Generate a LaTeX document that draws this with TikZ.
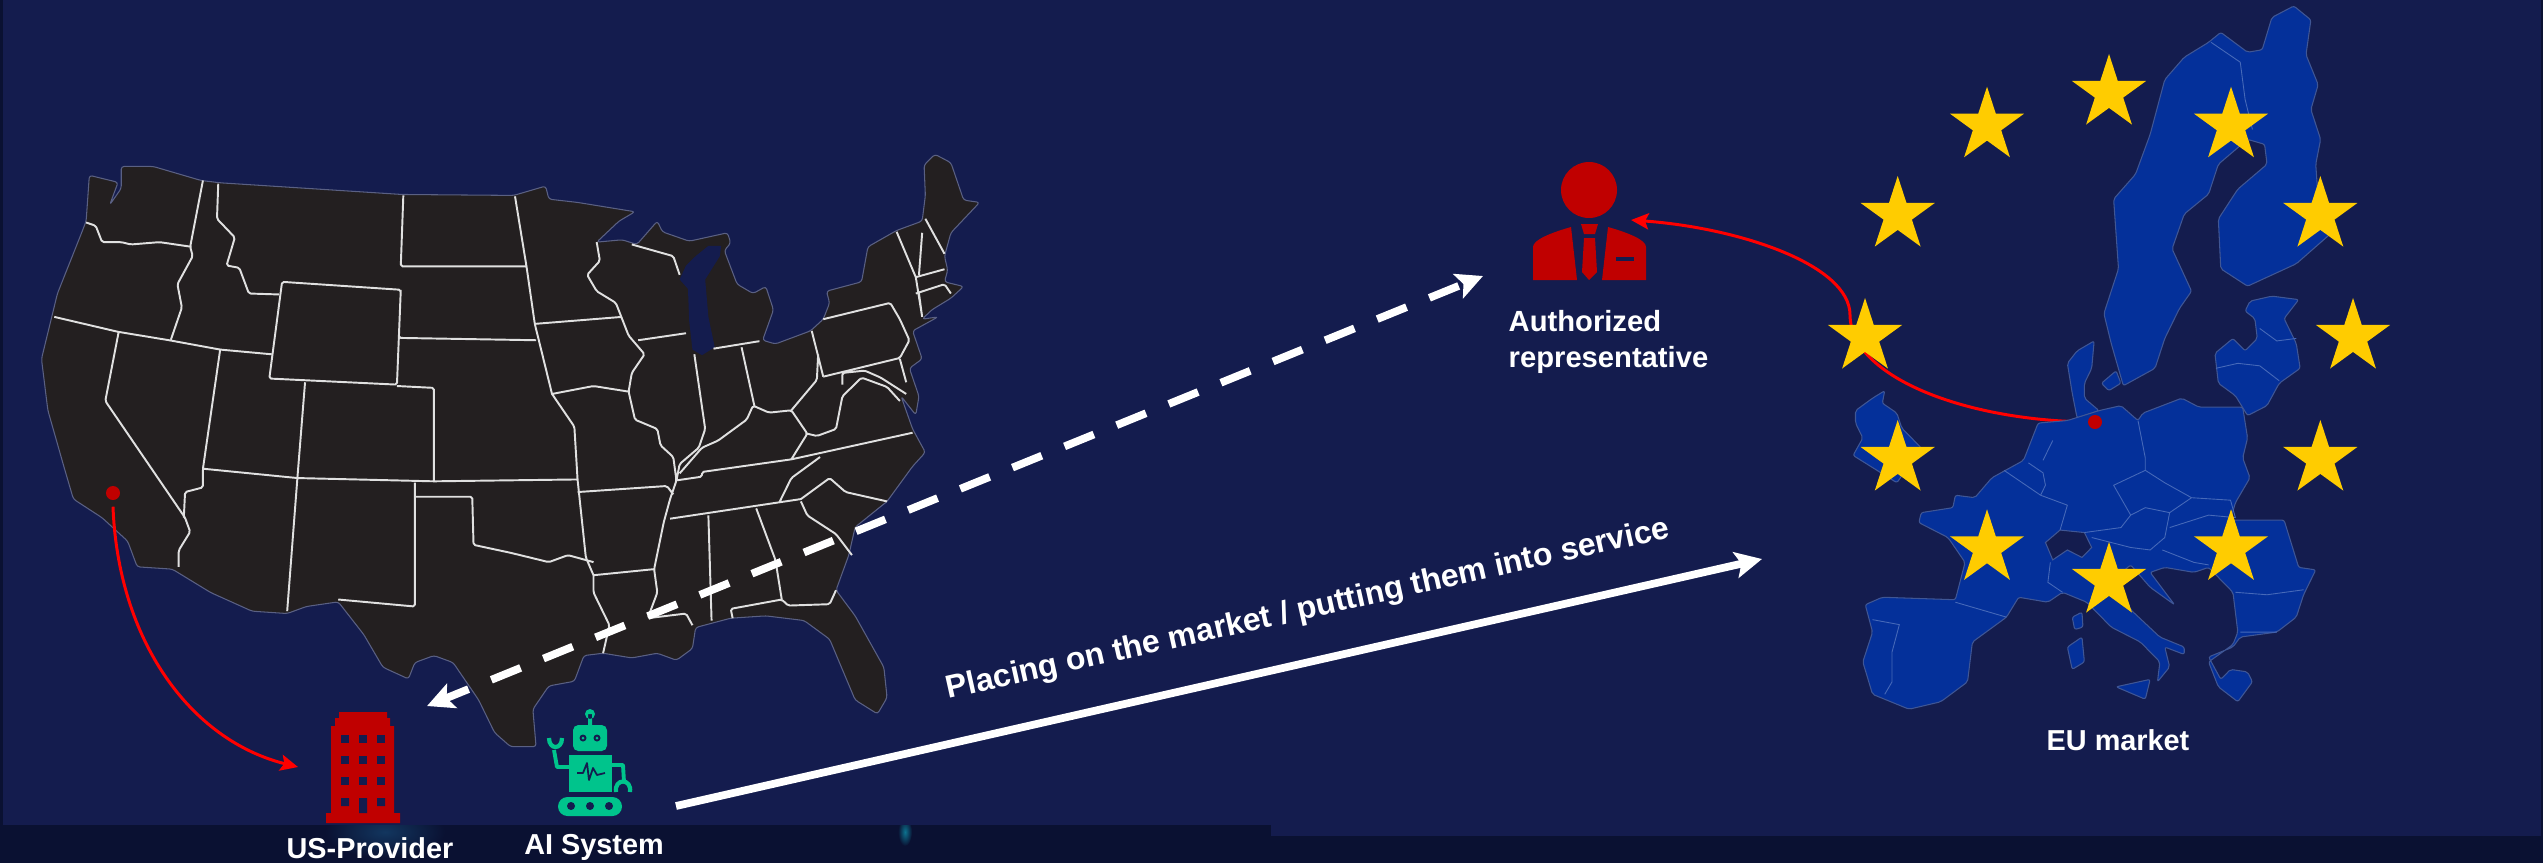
\documentclass[tikz,border=0pt]{standalone}
\usepackage{fontspec}
\setmainfont{Liberation Sans}
\usetikzlibrary{arrows.meta,shapes.geometric,calc}
\definecolor{navy}{HTML}{141C4E}
\definecolor{strip}{HTML}{0A1132}
\definecolor{stripglow}{HTML}{12365F}
\definecolor{usland}{HTML}{231F20}
\definecolor{euland}{HTML}{04309A}
\definecolor{euline}{HTML}{5C7CC4}
\definecolor{staryellow}{HTML}{FFCC00}
\definecolor{iconred}{HTML}{C00000}
\definecolor{arrowred}{HTML}{FF0000}
\definecolor{robotgreen}{HTML}{00C48C}
\tikzset{
  usfill/.style={fill=usland,draw=navy!70!white,line width=.3pt,line join=round,rounded corners=.8pt},
  stateline/.style={draw=white!88!black,line width=.55pt,line join=round,rounded corners=.5pt},
  eufill/.style={fill=euland,draw=euline!60!navy,line width=.3pt,line join=round,rounded corners=.6pt},
  euborder/.style={draw=euline!75!euland,line width=.25pt,line join=round},
  eustar/.style={star,star points=5,star point ratio=2.618,fill=staryellow,minimum size=.78cm,inner sep=0pt,draw=none},
  reddot/.style={circle,fill=iconred,minimum size=.14cm,inner sep=0pt},
  redarrow/.style={arrowred,line width=.85pt,-{Stealth[length=5pt,width=4.6pt,inset=1pt]}},
  whitearrow/.style={white,line width=2.2pt},
  tiplarge/.style={-{Stealth[length=7.6pt,width=7.4pt,inset=1.6pt]}},
  marklabel/.style={text=white,font=\fontsize{8.2}{10}\selectfont\bfseries,inner sep=0pt}
}
\begin{document}
\begin{tikzpicture}[x=.01cm,y=-.01cm]
\useasboundingbox (0,0) rectangle (2543,863);
\fill[navy] (0,0) rectangle (2543,863);
\fill[strip] (0,825) rectangle (1271,863);\fill[strip] (1271,836) rectangle (2543,863);\fill[strip] (0,0) rectangle (3,825);\fill[strip] (2541,0) rectangle (2543,836);
\begin{scope}
\clip (0,825) rectangle (1271,863);
\shade[inner color=stripglow,outer color=strip,draw=none] (385,832) ellipse (60 and 26);
\shade[inner color=stripglow!70!cyan,outer color=strip,draw=none] (905,832) ellipse (7 and 14);
\end{scope}
% US map
\begin{scope}[shift={(0,130)},x=.00638cm,y=-.004675cm]
\filldraw[usfill] (140,97)--(185,112)--(172,160)--(190,125)--(190,78)--(240,78)--(315,108)--(345,113)--(630,138)--(805,140)--(855,120)--(860,148)--(905,155)--(950,165)--(995,175)--(970,195)--(935,240)--(975,235)--(998,245)--(1030,195)--(1038,218)--(1080,238)--(1140,220)--(1145,242)--(1135,258)--(1155,330)--(1180,350)--(1200,335)--(1212,385)--(1195,450)--(1215,458)--(1270,430)--(1290,405)--(1300,370)--(1295,345)--(1350,325)--(1360,250)--(1405,215)--(1445,195)--(1450,140)--(1448,75)--(1465,52)--(1490,70)--(1510,150)--(1535,155)--(1490,220)--(1480,270)--(1485,300)--(1480,325)--(1510,335)--(1490,360)--(1460,385)--(1445,405)--(1470,400)--(1430,430)--(1445,490)--(1425,510)--(1440,570)--(1435,610)--(1412,570)--(1430,640)--(1450,690)--(1430,720)--(1390,795)--(1340,850)--(1330,910)--(1310,985)--(1340,1040)--(1385,1150)--(1390,1215)--(1375,1250)--(1340,1220)--(1300,1090)--(1260,1050)--(1200,1040)--(1145,1045)--(1090,1065)--(1085,1110)--(1060,1135)--(1030,1120)--(990,1130)--(945,1120)--(915,1125)--(900,1180)--(860,1190)--(835,1240)--(840,1320)--(800,1320)--(775,1290)--(750,1220)--(710,1140)--(680,1125)--(650,1140)--(640,1175)--(600,1150)--(570,1080)--(530,1010)--(480,1020)--(450,1035)--(395,1030)--(330,990)--(270,940)--(215,935)--(200,880)--(160,830)--(115,790)--(100,720)--(75,600)--(65,490)--(90,350)--(125,230)--(135,195)--cycle;
\fill[navy] (1090,270)--(1110,248)--(1130,248)--(1128,270)--(1105,320)--(1110,400)--(1120,465)--(1100,482)--(1085,470)--(1080,410)--(1078,340)--(1065,320)--(1075,290)--cycle;
\path[stateline]
 (135,198)--(150,205)--(160,240)--(190,240)--(205,245)--(250,240)--(300,250)
 (318,108)--(298,250)--(302,270)--(278,330)--(285,380)--(268,448)
 (342,115)--(340,190)--(368,230)--(355,290)--(375,295)--(390,350)--(437,352)
 (85,400)--(185,432)--(265,450)--(345,470)--(425,480)
 (442,325)--(628,342)--(622,545)--(422,532)--cycle
 (632,140)--(628,292)--(825,292) (628,342)--(625,445)--(840,450)
 (807,142)--(825,292)--(838,415)--(865,565)
 (478,540)--(466,745) (622,548)--(680,552)--(680,752)
 (186,432)--(165,580)--(290,830)--(298,860)--(280,900)--(280,935)
 (345,470)--(318,725)--(318,765)--(290,775)--(288,830)
 (318,725)--(466,745)--(680,752)--(905,748)
 (466,745)--(450,1030)
 (650,755)--(650,1020)--(530,1005)
 (650,785)--(740,785)--(742,888)--(800,905)--(860,925)--(890,910)--(930,925)
 (865,565)--(900,635)--(905,748)--(918,915)--(930,953)
 (838,415)--(975,400) (865,565)--(930,548)--(985,560)
 (935,240)--(940,280)--(920,310)--(935,345)--(965,370)--(985,440)--(1010,480)--(990,520)--(985,560)--(995,620)--(1030,640)--(1035,675)--(1055,700)--(1060,750)--(1050,790)--(1040,840)--(1025,940)--(1030,990)--(1015,1045)--(1075,1035)--(1085,1060)
 (905,775)--(1045,762)--(1055,780)
 (930,953)--(1025,940) (930,953)--(930,990)--(955,1060)--(945,1120)
 (1050,832)--(1255,790)
 (1060,750)--(1100,742)--(1100,732)--(1240,705)--(1430,648)
 (1088,480)--(1105,640)--(1095,680)--(1065,715)--(1060,750)
 (1000,450)--(1075,435)
 (990,245)--(1055,270)--(1065,310)
 (1118,468)--(1190,452)
 (1162,465)--(1182,590)
 (1272,430)--(1290,528)
 (1065,735)--(1100,680)--(1125,665)--(1140,650)--(1170,620)--(1180,590)--(1205,605)--(1240,600)--(1265,650)--(1240,705)
 (1240,600)--(1280,535)--(1282,480)
 (1265,650)--(1280,655)--(1310,640)--(1320,570)--(1350,530)--(1390,550)--(1410,580)
 (1290,528)--(1410,488)--(1425,450)--(1410,405)--(1395,370)--(1290,405)
 (1320,545)--(1320,520)--(1355,515)--(1380,530)--(1420,565) (1410,490)--(1420,540)
 (1405,218)--(1435,315) (1450,190)--(1480,265) (1445,220)--(1440,310)
 (1435,315)--(1480,298) (1435,350)--(1480,330)--(1490,350) (1440,350)--(1445,400) (1435,315)--(1445,400)
 (1285,700)--(1240,745)--(1222,795) (1255,790)--(1300,745)--(1325,775)--(1390,795)
 (1255,795)--(1265,825)--(1310,865)--(1335,910)
 (1110,825)--(1115,1050)
 (1185,810)--(1215,920)--(1225,1005)
 (1148,1045)--(1145,1025)--(1225,1005)--(1235,1018)--(1300,1015)--(1310,985);
\end{scope}
\node[reddot] (caldot) at (113,493) {};
% red curve to the representative runs behind the EU land
\node[reddot] (hamdot) at (2095,422) {};
\coordinate (reptip) at (1631,220);
\draw[redarrow] (hamdot.west) .. controls (1960,420) and (1850,375) .. (1850,315) .. controls (1850,265) and (1740,228) .. (reptip);
% EU map
\begin{scope}[shift={(1780,0)},x=.004866cm,y=-.004974cm]
\filldraw[eufill] (705,775)--(680,690)--(665,630)--(695,540)--(685,400)--(730,350)--(760,270)--(790,160)--(830,115)--(880,85)--(905,65)--(960,105)--(990,100)--(1010,35)--(1055,12)--(1090,40)--(1080,110)--(1105,170)--(1090,220)--(1110,280)--(1100,330)--(1105,400)--(1130,470)--(1060,530)--(960,575)--(905,540)--(900,440)--(940,380)--(1000,330)--(995,290)--(960,280)--(900,330)--(880,390)--(830,430)--(805,500)--(845,585)--(820,620)--(790,680)--(770,740)--cycle;
\filldraw[eufill] (955,625)--(965,605)--(1010,595)--(1065,602)--(1035,640)--(1060,690)--(1068,740)--(1025,770)--(1000,815)--(960,835)--(935,795)--(900,770)--(893,710)--(930,680)--(955,705)--(980,680)--(975,640)--cycle;
\filldraw[eufill] (590,730)--(610,705)--(645,685)--(640,740)--(625,770)--(625,800)--(655,825)--(610,840)--(600,790)--cycle;
\filldraw[eufill] (660,770)--(690,745)--(700,770)--(675,785)--cycle;
\filldraw[eufill] (155,825)--(190,800)--(215,785)--(210,810)--(240,830)--(250,860)--(290,900)--(240,970)--(150,915)--(170,880)--(155,850)--cycle;
\filldraw[eufill] (530,850)--(590,845)--(655,825)--(700,815)--(735,845)--(745,830)--(825,800)--(860,818)--(950,818)--(960,880)--(950,920)--(965,960)--(935,1010)--(925,1045)--(1035,1045)--(1065,1140)--(1100,1145)--(1075,1195)--(1060,1240)--(1020,1270)--(945,1280)--(930,1300)--(880,1320)--(905,1365)--(925,1345)--(960,1350)--(970,1370)--(940,1410)--(900,1380)--(880,1330)--(930,1295)--(940,1270)--(930,1190)--(880,1140)--(850,1150)--(790,1140)--(760,1150)--(810,1215)--(760,1180)--(720,1135)--(690,1160)--(720,1225)--(780,1280)--(830,1300)--(830,1315)--(790,1300)--(800,1340)--(775,1370)--(780,1330)--(740,1290)--(680,1260)--(630,1210)--(580,1190)--(550,1210)--(490,1200)--(465,1240)--(395,1290)--(385,1370)--(330,1410)--(265,1425)--(190,1395)--(170,1330)--(190,1270)--(175,1215)--(210,1200)--(360,1205)--(380,1130)--(345,1080)--(285,1050)--(290,1030)--(355,1020)--(360,995)--(400,1000)--(435,960)--(500,925)--cycle;
\filldraw[fill=navy,draw=euline!60!navy,line width=.3pt] (545,1090)--(575,1065)--(625,1070)--(640,1100)--(620,1120)--(590,1105)--(560,1125)--cycle;
\filldraw[eufill] (590,1300)--(620,1280)--(625,1330)--(600,1345)--cycle (600,1240)--(620,1230)--(622,1260)--(605,1265)--cycle (690,1380)--(760,1365)--(750,1405)--cycle;
\path[euborder]
 (885,85)--(945,125)--(955,200)--(970,260)
 (985,660)--(1020,685)--(1060,680) (895,740)--(940,730)--(985,735)--(1025,765)
 (460,945)--(535,995)--(590,1015)--(575,1065) (510,930)--(540,950)--(545,975)--(535,995) (540,925)--(560,885)
 (735,845)--(750,920)--(750,945)
 (685,975)--(750,945)--(790,970)--(845,1000)--(800,1030)--(750,1020)--(720,1035)--cycle
 (625,1070)--(700,1060)--(720,1035) (800,1030)--(790,1080)--(760,1105)--(720,1100)--(640,1080)
 (845,1000)--(925,1005)--(935,1040) (800,1060)--(880,1035)--(935,1040)
 (785,1105)--(850,1130)--(880,1135)
 (935,1190)--(1000,1195)--(1075,1185) (945,1270)--(1020,1270)
 (190,1245)--(245,1255)--(230,1310)--(230,1370)--(215,1395)
 (360,1210)--(430,1230)--(465,1240) (555,1130)--(550,1170)--(580,1190);
\end{scope}
\foreach \a in {0,30,...,330} \node[eustar] (star\a) at ($(2109,337)+(\a:244)$) {};
\node[reddot] at (hamdot) {};
% icons
\fill[iconred] (326,813) rectangle (400,823) (331,726) rectangle (394,813) (335,718) rectangle (390,726) (339,712) rectangle (387,718);
\foreach \wx in {341,359,377} \foreach \wy in {735,756,777} \fill[navy] (\wx,\wy) rectangle +(8,8);
\fill[navy] (341,798) rectangle +(8,8) (377,798) rectangle +(8,8) (359,798) rectangle (367,813);
\fill[iconred] (1589,190) circle (28);
\fill[iconred] (1533,280)--(1533,247) .. controls (1533,240) and (1550,233) .. (1571,227)--(1577,280)--cycle;
\fill[iconred] (1646,280)--(1646,247) .. controls (1646,240) and (1629,233) .. (1608,227)--(1602,280)--cycle;
\fill[iconred] (1581,224)--(1598,224)--(1595,234)--(1584,234)--cycle (1584,238)--(1595,238)--(1597,272)--(1589,280)--(1582,272)--cycle;
\fill[navy] (1616,257) rectangle (1634,261);
\begin{scope}[robotgreen]
\fill (590,714) circle (5) (588,714) rectangle (592,726);
\fill[rounded corners=1.5pt] (573,725) rectangle (607,751);
\fill (569,755) rectangle (612,792);
\fill[rounded corners=2.7pt] (558,797) rectangle (622,816);
\draw[line width=1.1pt,line join=round] (570,767)--(557,767)--(554,750);
\draw[line width=1.2pt] (549,738) .. controls (549,750) and (562,750) .. (562,738);
\draw[line width=1.1pt,line join=round] (612,765)--(623,765)--(624,782);
\draw[line width=1.2pt] (616,792) .. controls (614,778) and (632,778) .. (630,792);
\end{scope}
\fill[navy] (583,738) circle (3.5) (597,738) circle (3.5) (571,806) circle (4) (590,806) circle (4) (609,806) circle (4);
\fill[robotgreen] (583,738) circle (1.5) (597,738) circle (1.5);
\draw[navy,line width=.5pt,line join=round] (577,773)--(583,773)--(587,763)--(589,780)--(593,768)--(597,775)--(605,773);
% connectors
\coordinate (bldtip) at (298,767);\coordinate (robottail) at (676,806);\coordinate (markettip) at (1762,559);\coordinate (dashlow) at (427,706);\coordinate (dashhigh) at (1483,276);
\draw[redarrow] (caldot.south) ++(0,6) .. controls (118,640) and (190,740) .. (bldtip);
\draw[whitearrow,tiplarge] (robottail)--(markettip);
\draw[whitearrow,dash pattern=on 9pt off 7pt,dash phase=1.8pt,{Stealth[length=7.6pt,width=7.4pt,inset=1.6pt]}-{Stealth[length=7.6pt,width=7.4pt,inset=1.6pt]}] (dashlow)--(dashhigh);
% labels
\node[marklabel,anchor=base] (usprovider) at (370,858) {US-Provider};
\node[marklabel,anchor=base] (aisystem) at (594,854) {AI System};
\node[marklabel,anchor=base] (eumarket) at (2118,750) {EU market};
\node[marklabel,anchor=north west,align=left,font=\fontsize{8.3}{10}\selectfont\bfseries] (authrep) at (1508,310) {Authorized\\representative};
\node[marklabel,rotate=12.6,font=\fontsize{9.1}{11}\selectfont\bfseries] (placing) at (1308,610) {Placing on the market / putting them into service};
\end{tikzpicture}
\end{document}
